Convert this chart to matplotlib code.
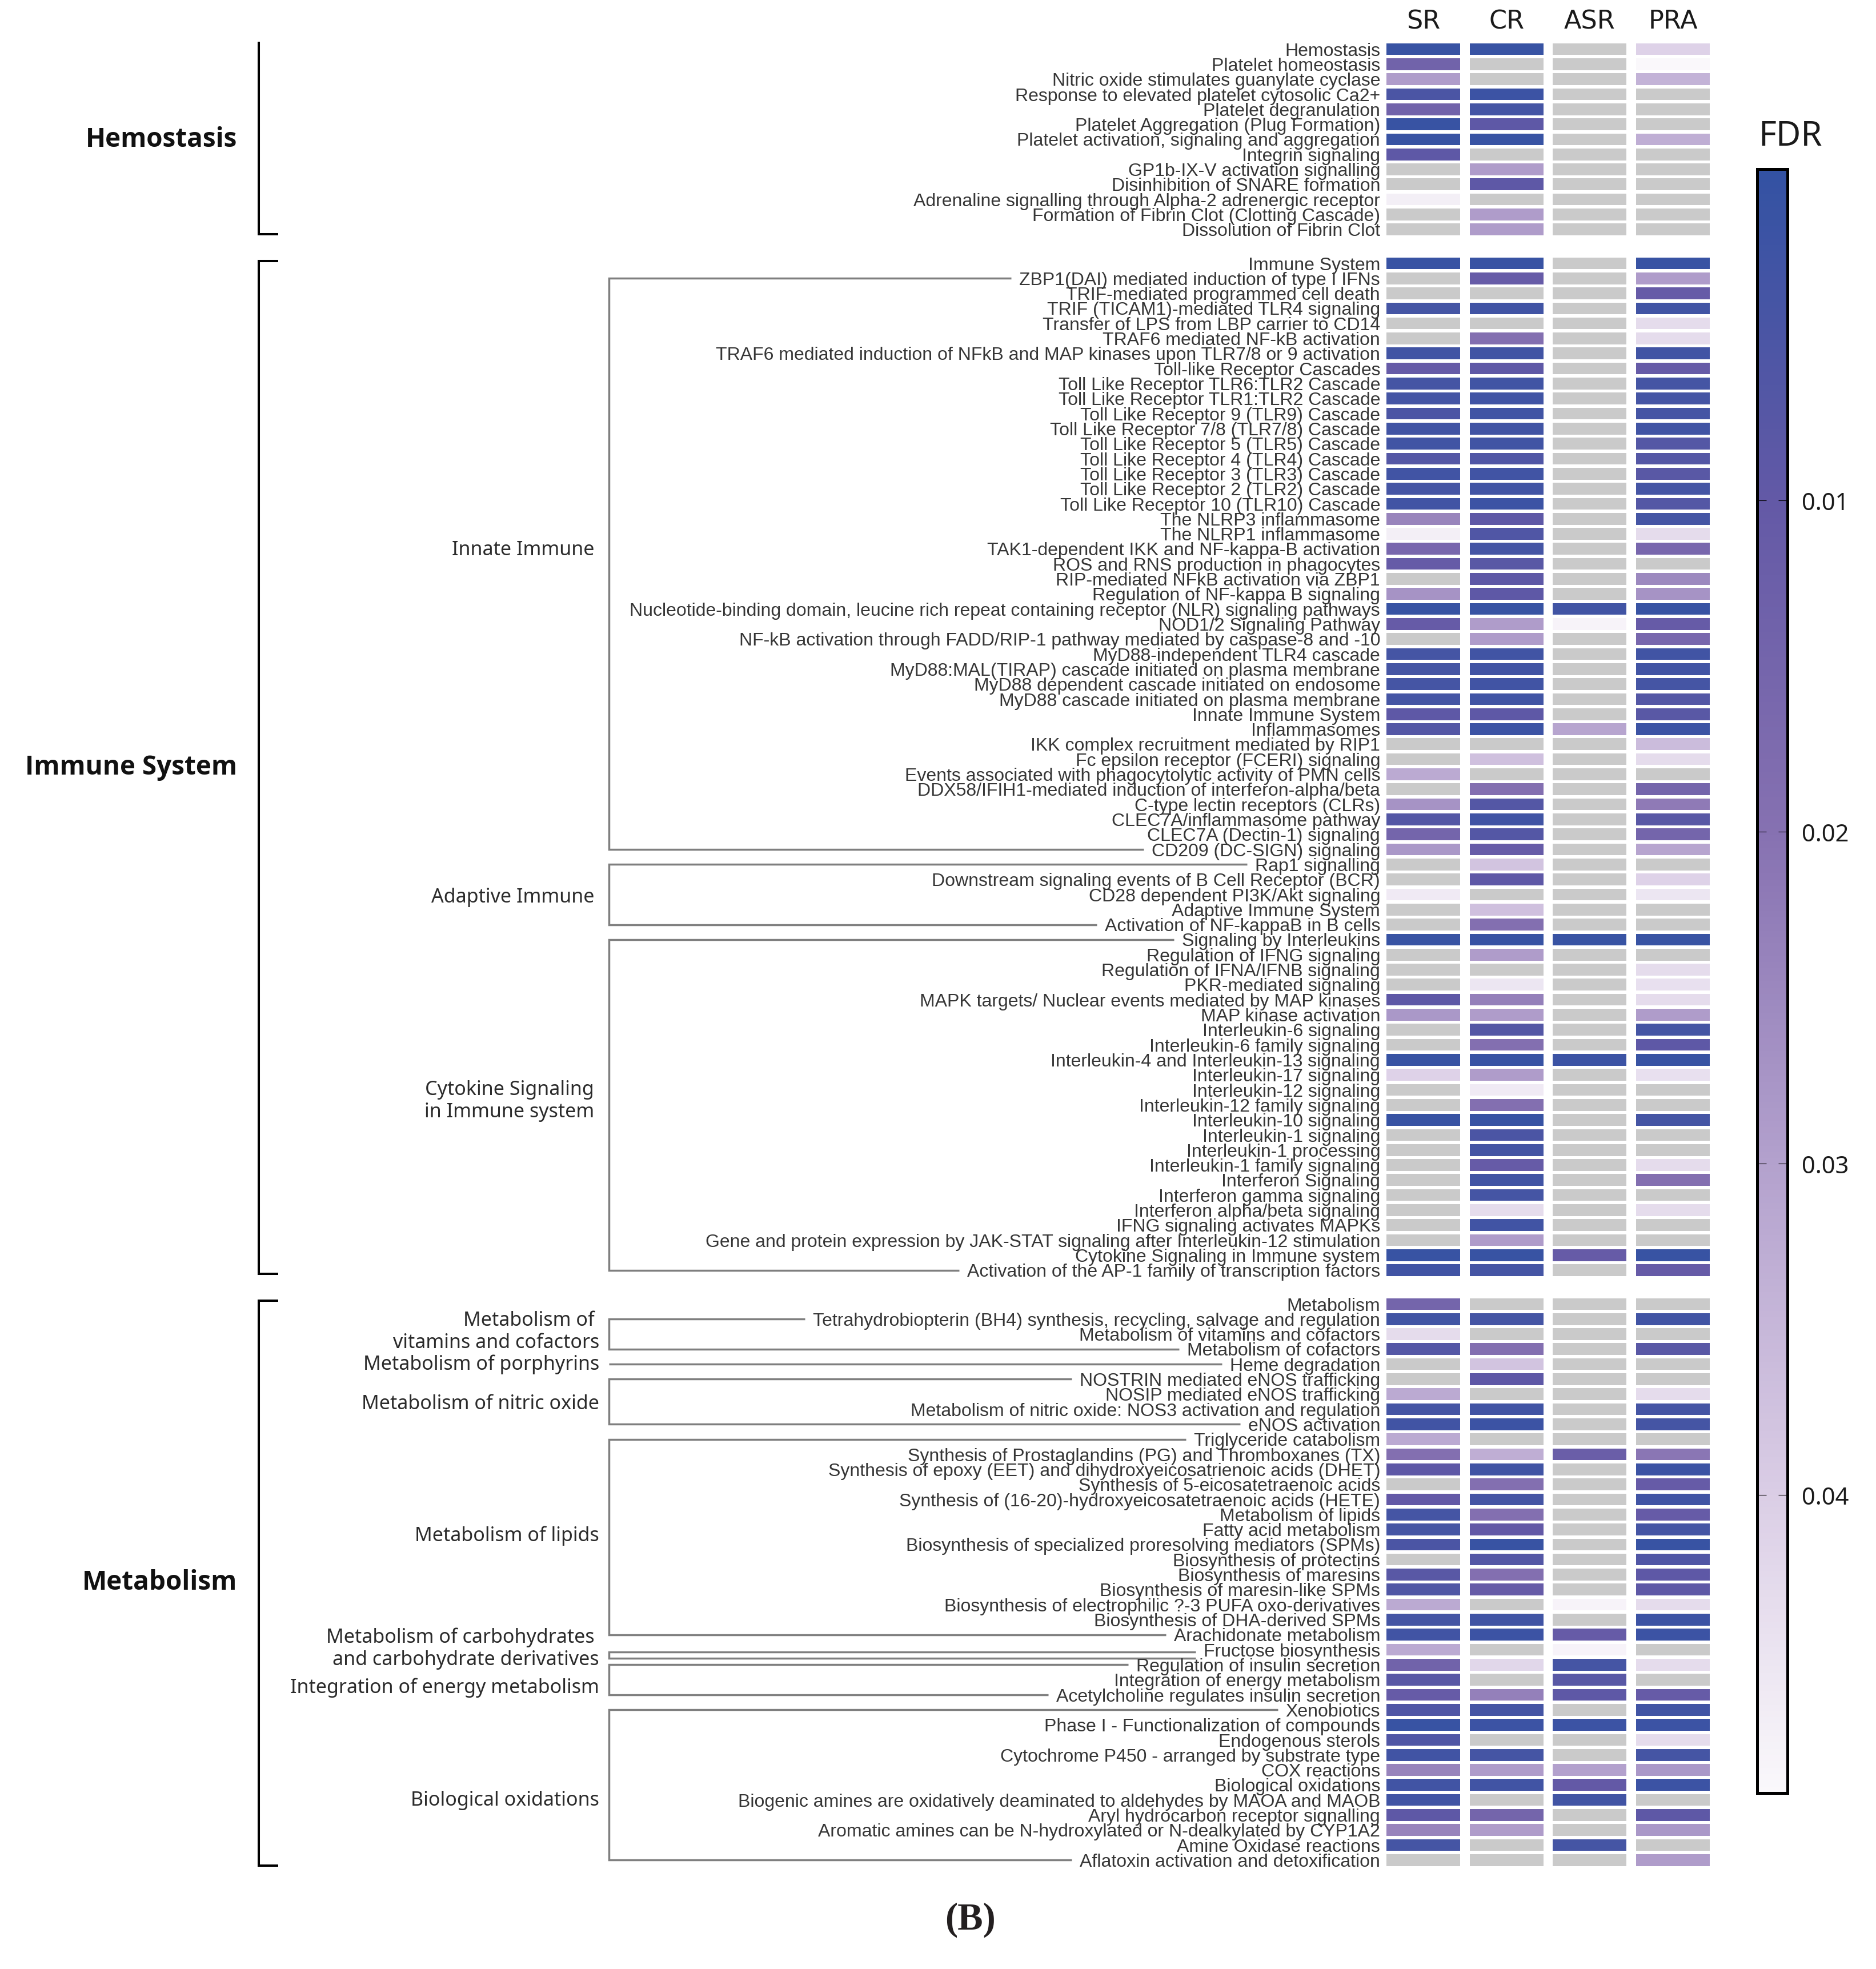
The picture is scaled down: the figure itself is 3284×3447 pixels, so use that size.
import numpy as np
import matplotlib
matplotlib.use('Agg')
import matplotlib.pyplot as plt
from matplotlib.colors import LinearSegmentedColormap, Normalize
from matplotlib.cm import ScalarMappable

NA = np.nan

samples = ['SR', 'CR', 'ASR', 'PRA']

hemostasis_terms = [
    'Hemostasis', 'Platelet homeostasis', 'Nitric oxide stimulates guanylate cyclase',
    'Response to elevated platelet cytosolic Ca2+', 'Platelet degranulation',
    'Platelet Aggregation (Plug Formation)', 'Platelet activation, signaling and aggregation',
    'Integrin signaling', 'GP1b-IX-V activation signalling', 'Disinhibition of SNARE formation',
    'Adrenaline signalling through Alpha-2 adrenergic receptor',
    'Formation of Fibrin Clot (Clotting Cascade)', 'Dissolution of Fibrin Clot',
]
# FDR per term: SR, CR, ASR, PRA (NaN = not significant, grey)
hemostasis_fdr = [
    [0.001, 0.001, NA, 0.041], [0.014, NA, NA, 0.049], [0.029, NA, NA, 0.034],
    [0.005, 0.002, NA, NA], [0.014, 0.004, NA, NA], [0.001, 0.009, NA, NA],
    [0.001, 0.001, NA, 0.033], [0.009, NA, NA, NA], [NA, 0.029, NA, NA],
    [NA, 0.009, NA, NA], [0.047, NA, NA, NA], [NA, 0.029, NA, NA],
    [NA, 0.029, NA, NA],
]

immune_terms = [
    'Immune System', 'ZBP1(DAI) mediated induction of type I IFNs',
    'TRIF-mediated programmed cell death', 'TRIF (TICAM1)-mediated TLR4 signaling',
    'Transfer of LPS from LBP carrier to CD14', 'TRAF6 mediated NF-kB activation',
    'TRAF6 mediated induction of NFkB and MAP kinases upon TLR7/8 or 9 activation',
    'Toll-like Receptor Cascades', 'Toll Like Receptor TLR6:TLR2 Cascade',
    'Toll Like Receptor TLR1:TLR2 Cascade', 'Toll Like Receptor 9 (TLR9) Cascade',
    'Toll Like Receptor 7/8 (TLR7/8) Cascade', 'Toll Like Receptor 5 (TLR5) Cascade',
    'Toll Like Receptor 4 (TLR4) Cascade', 'Toll Like Receptor 3 (TLR3) Cascade',
    'Toll Like Receptor 2 (TLR2) Cascade', 'Toll Like Receptor 10 (TLR10) Cascade',
    'The NLRP3 inflammasome', 'The NLRP1 inflammasome',
    'TAK1-dependent IKK and NF-kappa-B activation', 'ROS and RNS production in phagocytes',
    'RIP-mediated NFkB activation via ZBP1', 'Regulation of NF-kappa B signaling',
    'Nucleotide-binding domain, leucine rich repeat containing receptor (NLR) signaling pathways',
    'NOD1/2 Signaling Pathway',
    'NF-kB activation through FADD/RIP-1 pathway mediated by caspase-8 and -10',
    'MyD88-independent TLR4 cascade', 'MyD88:MAL(TIRAP) cascade initiated on plasma membrane',
    'MyD88 dependent cascade initiated on endosome', 'MyD88 cascade initiated on plasma membrane',
    'Innate Immune System', 'Inflammasomes', 'IKK complex recruitment mediated by RIP1',
    'Fc epsilon receptor (FCERI) signaling',
    'Events associated with phagocytolytic activity of PMN cells',
    'DDX58/IFIH1-mediated induction of interferon-alpha/beta', 'C-type lectin receptors (CLRs)',
    'CLEC7A/inflammasome pathway', 'CLEC7A (Dectin-1) signaling', 'CD209 (DC-SIGN) signaling',
    'Rap1 signalling', 'Downstream signaling events of B Cell Receptor (BCR)',
    'CD28 dependent PI3K/Akt signaling', 'Adaptive Immune System',
    'Activation of NF-kappaB in B cells', 'Signaling by Interleukins',
    'Regulation of IFNG signaling', 'Regulation of IFNA/IFNB signaling', 'PKR-mediated signaling',
    'MAPK targets/ Nuclear events mediated by MAP kinases', 'MAP kinase activation',
    'Interleukin-6 signaling', 'Interleukin-6 family signaling',
    'Interleukin-4 and Interleukin-13 signaling', 'Interleukin-17 signaling',
    'Interleukin-12 signaling', 'Interleukin-12 family signaling', 'Interleukin-10 signaling',
    'Interleukin-1 signaling', 'Interleukin-1 processing', 'Interleukin-1 family signaling',
    'Interferon Signaling', 'Interferon gamma signaling', 'Interferon alpha/beta signaling',
    'IFNG signaling activates MAPKs',
    'Gene and protein expression by JAK-STAT signaling after Interleukin-12 stimulation',
    'Cytokine Signaling in Immune system',
    'Activation of the AP-1 family of transcription factors',
]
immune_fdr = [
    [0.001, 0.001, NA, 0.001], [NA, 0.011, NA, 0.029], [NA, NA, NA, 0.011],
    [0.004, 0.003, NA, 0.003], [NA, NA, NA, 0.043], [NA, 0.019, NA, 0.043],
    [0.003, 0.003, NA, 0.003], [0.011, 0.009, NA, 0.011], [0.004, 0.003, NA, 0.004],
    [0.004, 0.003, NA, 0.004], [0.005, 0.003, NA, 0.004], [0.003, 0.003, NA, 0.003],
    [0.003, 0.003, NA, 0.007], [0.007, 0.006, NA, 0.007], [0.003, 0.003, NA, 0.008],
    [0.004, 0.003, NA, 0.004], [0.003, 0.002, NA, 0.007], [0.024, 0.009, NA, 0.004],
    [0.047, 0.006, NA, 0.043], [0.016, 0.004, NA, 0.016], [0.011, 0.008, NA, NA],
    [NA, 0.009, NA, 0.025], [0.027, 0.009, NA, 0.027], [0.001, 0.001, 0.003, 0.001],
    [0.011, 0.029, 0.048, 0.011], [NA, 0.029, NA, 0.016], [0.004, 0.003, NA, 0.003],
    [0.004, 0.003, NA, 0.003], [0.004, 0.003, NA, 0.004], [0.004, 0.003, NA, 0.007],
    [0.009, 0.009, NA, 0.008], [0.007, 0.002, 0.031, 0.002], [NA, NA, NA, 0.036],
    [NA, 0.037, NA, 0.043], [0.032, NA, NA, NA], [NA, 0.019, NA, 0.015],
    [0.027, 0.007, NA, 0.022], [0.007, 0.003, NA, 0.008], [0.015, 0.007, NA, 0.015],
    [0.028, 0.011, NA, 0.031], [NA, 0.038, NA, NA], [NA, 0.009, NA, 0.041],
    [0.046, NA, NA, 0.045], [NA, 0.037, NA, NA], [NA, 0.019, NA, NA],
    [0.001, 0.001, 0.001, 0.001], [NA, 0.029, NA, NA], [NA, NA, NA, 0.043],
    [NA, 0.045, NA, 0.044], [0.009, 0.023, NA, 0.043], [0.028, 0.029, NA, 0.029],
    [NA, 0.007, NA, 0.004], [NA, 0.019, NA, 0.009], [0.001, 0.001, 0.002, 0.001],
    [0.041, 0.029, NA, 0.044], [NA, 0.046, NA, NA], [NA, 0.019, NA, NA],
    [0.001, 0.001, NA, 0.004], [NA, 0.005, NA, NA], [NA, 0.004, NA, NA],
    [NA, 0.011, NA, 0.043], [NA, 0.003, NA, 0.019], [NA, 0.004, NA, NA],
    [NA, 0.043, NA, 0.043], [NA, 0.003, NA, NA], [NA, 0.029, NA, NA],
    [0.001, 0.001, 0.011, 0.001], [0.003, 0.004, NA, 0.011],
]

metabolism_terms = [
    'Metabolism', 'Tetrahydrobiopterin (BH4) synthesis, recycling, salvage and regulation',
    'Metabolism of vitamins and cofactors', 'Metabolism of cofactors', 'Heme degradation',
    'NOSTRIN mediated eNOS trafficking', 'NOSIP mediated eNOS trafficking',
    'Metabolism of nitric oxide: NOS3 activation and regulation', 'eNOS activation',
    'Triglyceride catabolism', 'Synthesis of Prostaglandins (PG) and Thromboxanes (TX)',
    'Synthesis of epoxy (EET) and dihydroxyeicosatrienoic acids (DHET)',
    'Synthesis of 5-eicosatetraenoic acids',
    'Synthesis of (16-20)-hydroxyeicosatetraenoic acids (HETE)', 'Metabolism of lipids',
    'Fatty acid metabolism', 'Biosynthesis of specialized proresolving mediators (SPMs)',
    'Biosynthesis of protectins', 'Biosynthesis of maresins',
    'Biosynthesis of maresin-like SPMs', 'Biosynthesis of electrophilic ?-3 PUFA oxo-derivatives',
    'Biosynthesis of DHA-derived SPMs', 'Arachidonate metabolism', 'Fructose biosynthesis',
    'Regulation of insulin secretion', 'Integration of energy metabolism',
    'Acetylcholine regulates insulin secretion', 'Xenobiotics',
    'Phase I - Functionalization of compounds', 'Endogenous sterols',
    'Cytochrome P450 - arranged by substrate type', 'COX reactions', 'Biological oxidations',
    'Biogenic amines are oxidatively deaminated to aldehydes by MAOA and MAOB',
    'Aryl hydrocarbon receptor signalling',
    'Aromatic amines can be N-hydroxylated or N-dealkylated by CYP1A2',
    'Amine Oxidase reactions', 'Aflatoxin activation and detoxification',
]
metabolism_fdr = [
    [0.015, NA, NA, NA], [0.003, 0.004, NA, 0.003], [0.043, NA, NA, NA],
    [0.007, 0.019, NA, 0.008], [NA, 0.038, NA, NA], [NA, 0.009, NA, NA],
    [0.032, NA, NA, 0.043], [0.004, 0.003, NA, 0.004], [0.003, 0.002, NA, 0.004],
    [0.032, NA, NA, NA], [0.019, 0.033, 0.012, 0.021], [0.009, 0.003, NA, 0.002],
    [NA, 0.019, NA, 0.011], [0.010, 0.004, NA, 0.003], [0.004, 0.019, NA, 0.011],
    [0.004, 0.010, NA, 0.004], [0.005, 0.001, NA, 0.001], [NA, 0.007, NA, 0.006],
    [0.008, 0.019, NA, 0.009], [0.006, 0.011, NA, 0.009], [0.032, NA, 0.048, 0.043],
    [0.004, 0.003, NA, 0.002], [0.003, 0.002, 0.011, 0.002], [0.032, NA, 0.048, NA],
    [0.014, 0.042, 0.004, 0.043], [0.008, NA, 0.008, NA], [0.011, 0.023, 0.009, 0.011],
    [0.006, 0.004, NA, 0.003], [0.001, 0.002, 0.002, 0.002], [0.006, NA, NA, 0.043],
    [0.003, 0.004, NA, 0.004], [0.024, 0.029, 0.030, 0.028], [0.003, 0.003, 0.010, 0.002],
    [0.003, NA, 0.003, NA], [0.009, 0.015, NA, 0.009], [0.024, 0.029, NA, 0.028],
    [0.004, NA, 0.004, NA], [NA, NA, NA, 0.029],
]

# sub-categories: (label, first term, last term)
immune_subgroups = [
    ('Innate Immune', 'ZBP1(DAI) mediated induction of type I IFNs', 'CD209 (DC-SIGN) signaling'),
    ('Adaptive Immune', 'Rap1 signalling', 'Activation of NF-kappaB in B cells'),
    ('Cytokine Signaling\nin Immune system', 'Signaling by Interleukins',
     'Activation of the AP-1 family of transcription factors'),
]
metabolism_subgroups = [
    ('Metabolism of \nvitamins and cofactors',
     'Tetrahydrobiopterin (BH4) synthesis, recycling, salvage and regulation', 'Metabolism of cofactors'),
    ('Metabolism of porphyrins', 'Heme degradation', 'Heme degradation'),
    ('Metabolism of nitric oxide', 'NOSTRIN mediated eNOS trafficking', 'eNOS activation'),
    ('Metabolism of lipids', 'Triglyceride catabolism', 'Arachidonate metabolism'),
    ('Metabolism of carbohydrates \nand carbohydrate derivatives', 'Fructose biosynthesis',
     'Fructose biosynthesis'),
    ('Integration of energy metabolism', 'Regulation of insulin secretion',
     'Acetylcholine regulates insulin secretion'),
    ('Biological oxidations', 'Xenobiotics', 'Aflatoxin activation and detoxification'),
]

groups = [
    ('Hemostasis', hemostasis_terms, hemostasis_fdr, []),
    ('Immune System', immune_terms, immune_fdr, immune_subgroups),
    ('Metabolism', metabolism_terms, metabolism_fdr, metabolism_subgroups),
]

# ---- layout (pixels of the 3284x3448 canvas) ----
W, H = 3284, 3448
ROW0, PITCH = 87, 26.31
GROUP_GAP = 1.25
HM_LEFT, HM_RIGHT = 2418.6, 3001.4
LABEL_X = 2416
GREY = '#cacaca'
TEXT = '#363636'
LINE_GREY = '#7f7f7f'
# where the black brackets start/end relative to first/last row
bracket_pad = {'Hemostasis': (0.76, 0.31), 'Immune System': (0.15, 0.24), 'Metabolism': (0.22, 0.37)}
sub_label_row = {
    'Innate Immune': 33.3, 'Adaptive Immune': 56.4, 'Cytokine Signaling\nin Immune system': 69.95,
    'Metabolism of \nvitamins and cofactors': 85.3, 'Metabolism of porphyrins': 87.5,
    'Metabolism of nitric oxide': 90.1, 'Metabolism of lipids': 98.9,
    'Metabolism of carbohydrates \nand carbohydrate derivatives': 106.4,
    'Integration of energy metabolism': 109.0, 'Biological oxidations': 116.5,
}
# single-row brackets drawn as a thin box (offsets of top / bottom line from the row)
thin_box = {'Metabolism of carbohydrates \nand carbohydrate derivatives': (0.15, 0.57)}
sub_label_x = {'Immune System': 1040, 'Metabolism': 1049}

cmap = LinearSegmentedColormap.from_list('fdr', [
    (0.0, '#3352a3'), (0.204, '#6359a6'), (0.408, '#8671b1'),
    (0.612, '#b3a1cd'), (0.816, '#dacde5'), (1.0, '#faf8fb')])
norm = Normalize(0, 0.049)

# row positions with a gap between categories
positions = []
y = 0.0
for gi, (name, terms, fdr, subs) in enumerate(groups):
    if gi:
        y += GROUP_GAP
    pos = {}
    for t in terms:
        pos[t] = y
        y += 1
    positions.append(pos)
last_row = y - 1

top_px = ROW0 - 0.5 * PITCH
bot_px = ROW0 + (last_row + 0.5) * PITCH

fig = plt.figure(figsize=(W / 100, H / 100), dpi=100)
fig.patch.set_facecolor('white')

hm = fig.add_axes([HM_LEFT / W, 1 - bot_px / H, (HM_RIGHT - HM_LEFT) / W, (bot_px - top_px) / H])
hm.set_xlim(-0.5, len(samples) - 0.5)
hm.set_ylim(last_row + 0.5, -0.5)
hm.axis('off')

la = fig.add_axes([0, 1 - bot_px / H, HM_LEFT / W, (bot_px - top_px) / H])
la.set_xlim(0, HM_LEFT)
la.set_ylim(last_row + 0.5, -0.5)
la.axis('off')

# heatmap cells
all_pos = np.concatenate([[p[t] for t in g[1]] for p, g in zip(positions, groups)])
all_fdr = np.vstack([np.array(g[2], dtype=float) for g in groups])
for j, s in enumerate(samples):
    vals = all_fdr[:, j]
    colors = [GREY if np.isnan(v) else cmap(norm(v)) for v in vals]
    hm.barh(all_pos, 0.885, left=j - 0.4425, height=0.786, color=colors, linewidth=0)
    hm.annotate(s, xy=(j, H - 38), xycoords=('data', 'figure pixels'), ha='center', va='center',
                fontsize=32, color='#1a1a1a', family='DejaVu Sans')

# row labels
label_art = {}
for pos, (name, terms, fdr, subs) in zip(positions, groups):
    for t in terms:
        label_art[t] = la.text(LABEL_X, pos[t] + 0.1, t, ha='right', va='center', fontsize=23,
                               color=TEXT, family='Liberation Sans')

fig.canvas.draw()
renderer = fig.canvas.get_renderer()
inv = la.transData.inverted()

def label_left(term):
    bb = label_art[term].get_window_extent(renderer)
    return inv.transform((bb.x0, bb.y0))[0]

for pos, (name, terms, fdr, subs) in zip(positions, groups):
    first, last = pos[terms[0]], pos[terms[-1]]
    pt, pb = bracket_pad[name]
    y0, y1 = first - pt, last + pb
    la.plot([487, 453, 453, 487], [y0, y0, y1, y1], color='black', lw=2.9,
            solid_joinstyle='miter', solid_capstyle='butt')
    la.text(415, (first + last) / 2, name, ha='right', va='center', fontsize=33,
            fontweight='bold', color='#111111', family=['Open Sans', 'DejaVu Sans'])
    for sname, t0, t1 in subs:
        ya, yb = pos[t0], pos[t1]
        xa, xb = label_left(t0) - 14, label_left(t1) - 14
        if sname in thin_box:
            oa, ob = thin_box[sname]
            la.plot([xa, 1066, 1066, xa], [ya + oa, ya + oa, ya + ob, ya + ob], color=LINE_GREY,
                    lw=2.5, solid_joinstyle='miter', solid_capstyle='butt')
        elif t0 == t1:
            la.plot([1066, xa], [ya, ya], color=LINE_GREY, lw=2.5, solid_capstyle='butt')
        else:
            la.plot([xa, 1066, 1066, xb], [ya, ya, yb, yb], color=LINE_GREY, lw=2.5,
                    solid_joinstyle='miter', solid_capstyle='butt')
        la.text(sub_label_x[name], sub_label_row[sname], sname, ha='right', va='center',
                fontsize=24.5, color='#2b2b2b', family='Noto Sans', multialignment='right')

# colour bar
cb_top, cb_bot = 297, 3140
cax = fig.add_axes([3076 / W, 1 - cb_bot / H, 53 / W, (cb_bot - cb_top) / H])
cb = fig.colorbar(ScalarMappable(norm=norm, cmap=cmap), cax=cax)
cax.invert_yaxis()
cb.set_ticks([0.01, 0.02, 0.03, 0.04])
cb.set_ticklabels(['0.01', '0.02', '0.03', '0.04'])
cb.outline.set_linewidth(3.6)
cax.tick_params(direction='in', left=True, right=True, length=11.5, width=0.8,
                labelsize=30, pad=18, labelcolor='#1a1a1a')
for t in cax.get_yticklabels():
    t.set_fontfamily('Noto Sans')
fig.text(3078 / W, 1 - 239 / H, 'FDR', ha='left', va='center', fontsize=43,
         color='#1a1a1a', family='Noto Sans')

fig.text(1698 / W, 1 - 3361 / H, '(B)', ha='center', va='center', fontsize=48,
         fontweight='bold', family='Liberation Serif', color='#231f20')

fig.savefig('out.png', dpi=100, facecolor='white')
